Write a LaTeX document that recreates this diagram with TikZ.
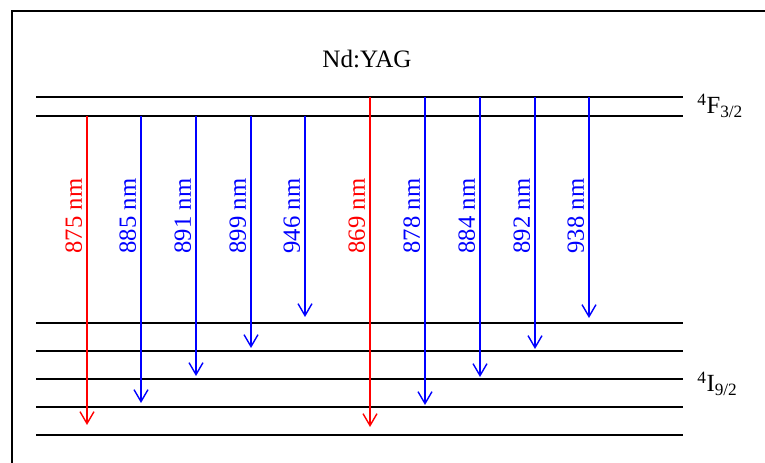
\documentclass[tikz,border=0pt]{standalone}
\usepackage{fontspec}
\setmainfont{Liberation Serif}
\usetikzlibrary{arrows.meta}
\definecolor{redLine}{RGB}{255,0,0}
\definecolor{blueLine}{RGB}{0,0,255}
\tikzset{
  frameline/.style={line width=1.3pt},
  eline/.style={line width=1.3pt},
  trans/.style={line width=1.05pt, -{Straight Barb[length=9pt,width=10.5pt,line width=1.05pt]}},
  wlabel/.style={rotate=90, anchor=south, inner sep=0pt, font=\fontsize{18.5}{22}\selectfont},
  term/.style={anchor=base west, inner sep=0pt, font=\fontsize{18.5}{22}\selectfont},
}

\begin{document}
\begin{tikzpicture}[x=0.75pt,y=-0.75pt]
\useasboundingbox (0,0) rectangle (765,463);
% frame
\draw[frameline] (12,470) -- (12,11) -- (770,11);
% title
\node[anchor=base, inner sep=0pt, font=\fontsize{18.8}{22}\selectfont] (title) at (367,68) {Nd:YAG};
% upper manifold
\foreach \y [count=\i] in {97,116}{
  \coordinate (F\i) at (36,\y);
  \draw[eline] (F\i) -- (683,\y);
}
% lower manifold
\foreach \y [count=\i] in {323,351,379,407,435}{
  \coordinate (I\i) at (36,\y);
  \draw[eline] (I\i) -- (683,\y);
}
\node[term] (Fterm) at (697,114) {\textsuperscript{4}F\textsubscript{3/2}};
\node[term] (Iterm) at (697,392) {\textsuperscript{4}I\textsubscript{9/2}};
% transitions
\foreach \x/\ys/\ye/\col/\lam [count=\i] in {
  87/116/425/redLine/875, 141/116/403/blueLine/885, 196/116/376/blueLine/891,
  251/116/348/blueLine/899, 305/116/317/blueLine/946,
  370/97/427/redLine/869, 425/97/405/blueLine/878, 480/97/377/blueLine/884,
  535/97/349/blueLine/892, 589/97/318/blueLine/938}{
  \coordinate (s\i) at (\x,\ys);
  \coordinate (e\i) at (\x,\ye);
  \draw[trans, \col] (s\i) -- (e\i);
  \node[wlabel, text=\col] (l\i) at (\x-4.5,216) {\lam\ nm};
}
\end{tikzpicture}
\end{document}
